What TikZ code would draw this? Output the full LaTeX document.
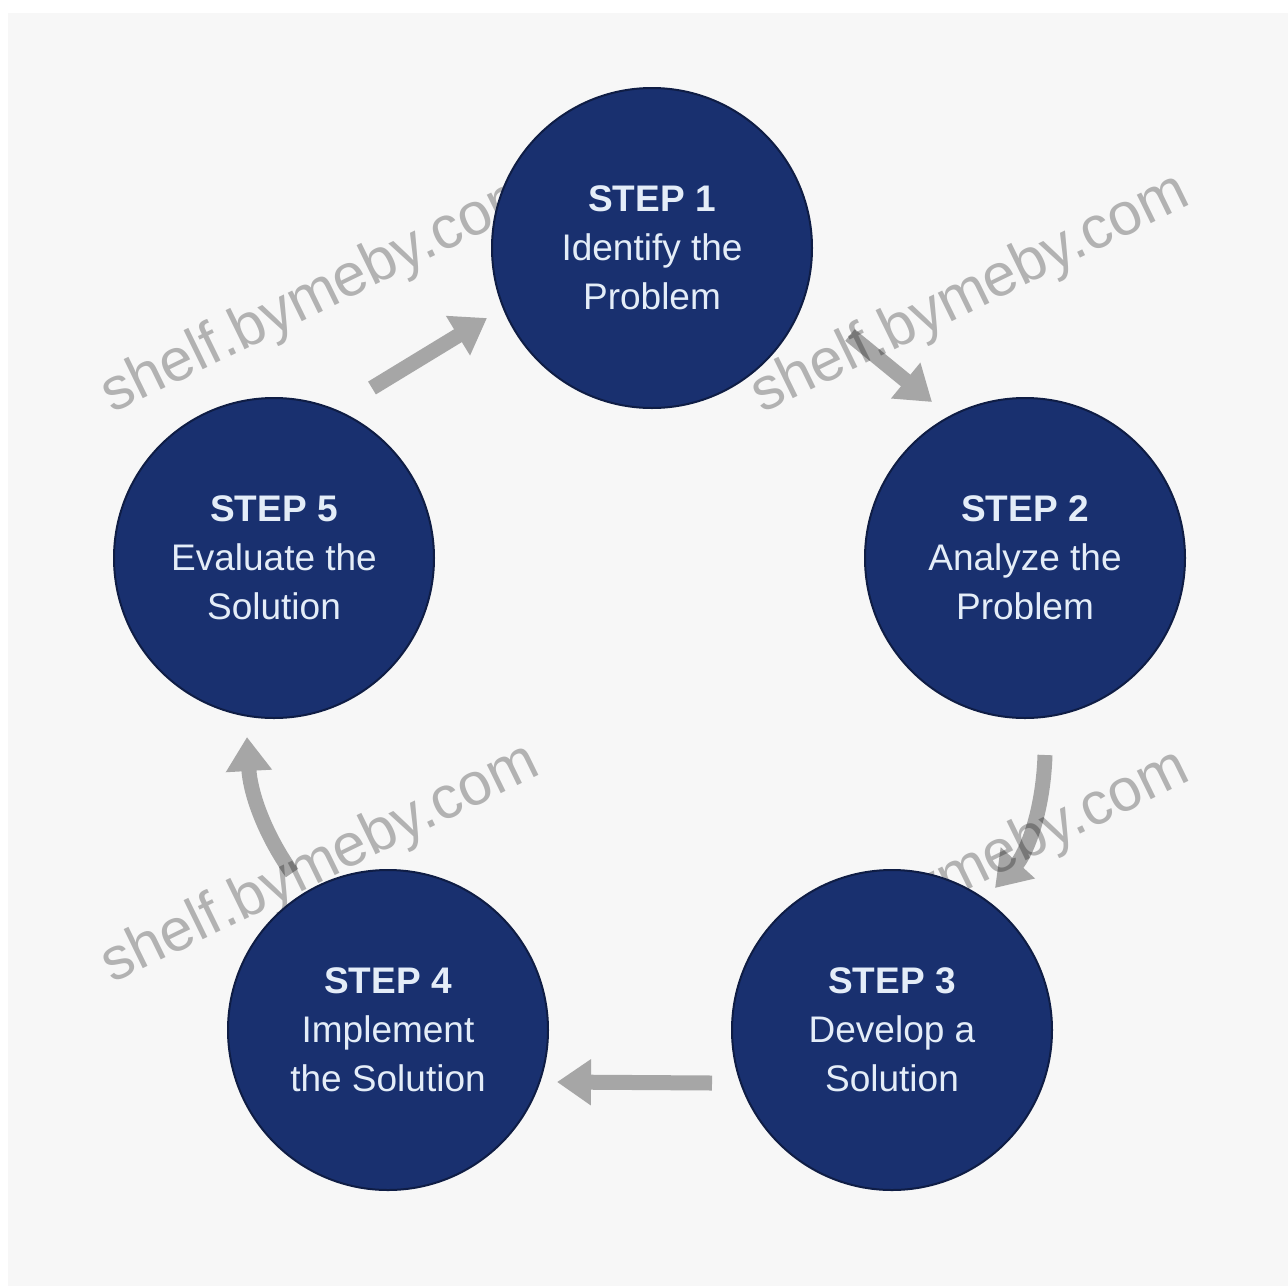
\documentclass[tikz,border=0pt]{standalone}
\usepackage{fontspec}
\setmainfont{Liberation Sans}
\usetikzlibrary{arrows.meta,calc}
\definecolor{bgpanel}{HTML}{F7F7F7}
\definecolor{navy}{HTML}{19306F}
\definecolor{rim}{HTML}{0F1D45}
\definecolor{arrgray}{HTML}{A6A6A6}
\definecolor{txt}{HTML}{E4EDF8}
\pgfdeclarelayer{bg}
\pgfdeclarelayer{arrows}
\pgfdeclarelayer{wm}
\pgfsetlayers{bg,arrows,wm,main}
\begin{document}
\begin{tikzpicture}[x=1pt,y=-1pt,
  stepcircle/.style={circle, fill=navy, draw=rim, line width=2pt, minimum size=320pt, inner sep=0pt, text=txt, align=center, font=\fontsize{37}{49}\selectfont},
  flow/.style={draw=arrgray, line width=15pt, -{Triangle[length=34pt,width=44pt]}},
  wmark/.style={anchor=base west, rotate=26, text=black, text opacity=0.28, font=\fontsize{60}{60}\selectfont, inner sep=0pt}]
\useasboundingbox (0,0) rectangle (1288,1286);
\begin{pgfonlayer}{bg}
  \fill[white] (0,0) rectangle (1288,1286);
  \fill[bgpanel] (8,13) rectangle (1288,1286);
\end{pgfonlayer}

\node[stepcircle] (s1) at (652,248) {\textbf{STEP 1}\\Identify the\\Problem};
\node[stepcircle] (s2) at (1025,558) {\textbf{STEP 2}\\Analyze the\\Problem};
\node[stepcircle] (s3) at (892,1030) {\textbf{STEP 3}\\Develop a\\Solution};
\node[stepcircle] (s4) at (388,1030) {\textbf{STEP 4}\\Implement\\the Solution};
\node[stepcircle] (s5) at (274,558) {\textbf{STEP 5}\\Evaluate the\\Solution};

\begin{pgfonlayer}{arrows}
  \draw[flow] ([shift={(198,87)}]s1.center) -- ([shift={(-93,-156)}]s2.center);
  \draw[flow] ([shift={(20,197)}]s2.center) .. controls +(-2,60) and +(30,-33) .. ([shift={(103,-142)}]s3.center);
  \draw[flow] ([shift={(-180,53)}]s3.center) -- ([shift={(169,52)}]s4.center);
  \draw[flow] ([shift={(-96,-157)}]s4.center) .. controls +(-30,-43) and +(3,53) .. ([shift={(-27,179)}]s5.center);
  \draw[flow] ([shift={(98,-170)}]s5.center) -- ([shift={(-165,70)}]s1.center);
\end{pgfonlayer}

\begin{pgfonlayer}{wm}
  \node[wmark] (w1) at (112,414) {shelf.bymeby.com};
  \node[wmark] (w2) at (762,414) {shelf.bymeby.com};
  \node[wmark] (w3) at (112,984) {shelf.bymeby.com};
  \node[wmark] (w4) at (762,990) {shelf.bymeby.com};
\end{pgfonlayer}
\end{tikzpicture}
\end{document}
